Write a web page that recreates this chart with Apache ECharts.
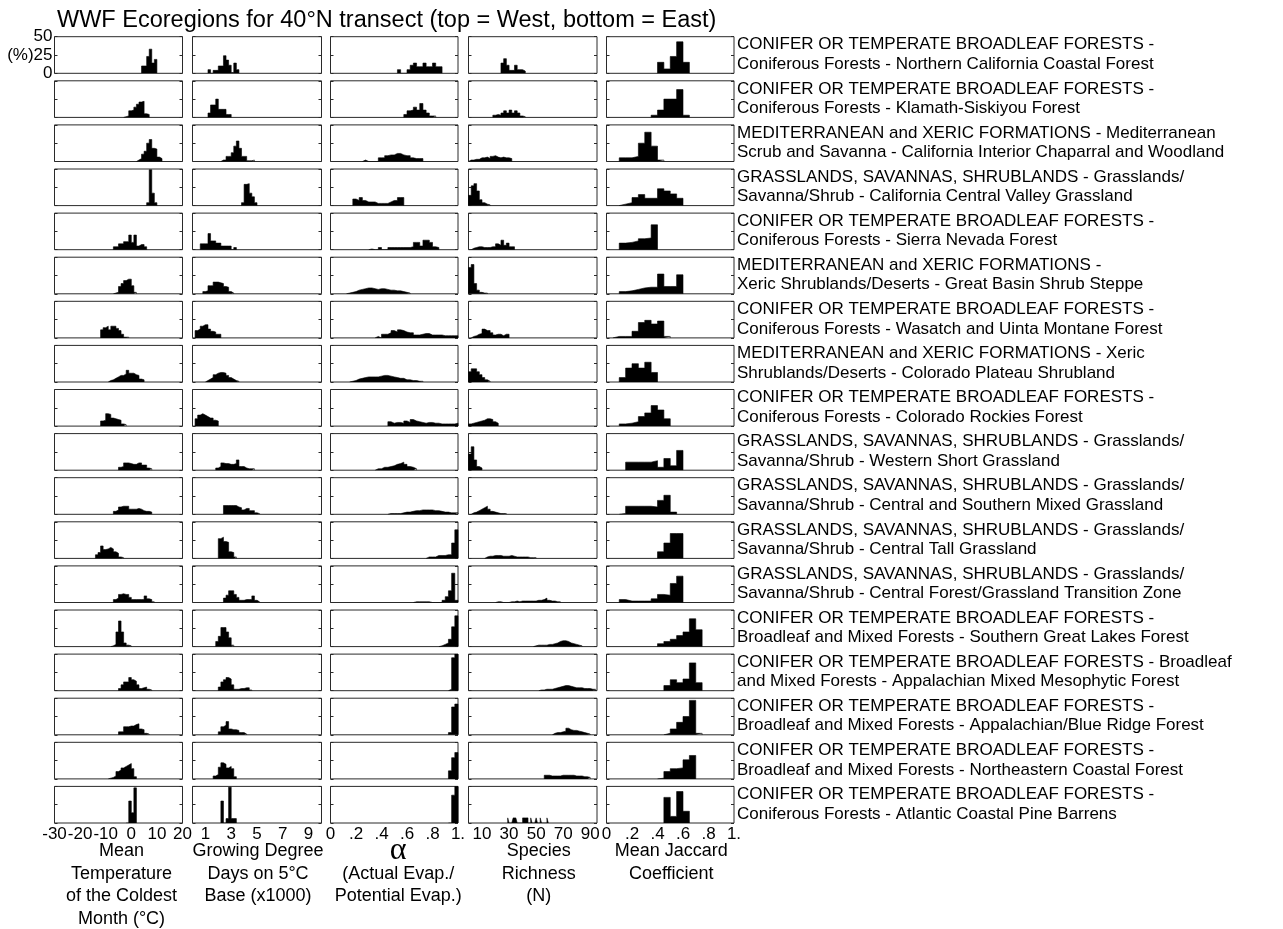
<!DOCTYPE html>
<html><head><meta charset="utf-8">
<script src="https://cdn.jsdelivr.net/npm/echarts/dist/echarts.min.js"></script>
<style>html,body{margin:0;padding:0;background:#fff}#c{width:1283px;height:929px}</style>
</head><body><div id="c"></div>
<script>
const chartTitle = 'WWF Ecoregions for 40°N transect (top = West, bottom = East)';
const regions = [
 'CONIFER OR TEMPERATE BROADLEAF FORESTS -\nConiferous Forests - Northern California Coastal Forest',
 'CONIFER OR TEMPERATE BROADLEAF FORESTS -\nConiferous Forests - Klamath-Siskiyou Forest',
 'MEDITERRANEAN and XERIC FORMATIONS - Mediterranean\nScrub and Savanna - California Interior Chaparral and Woodland',
 'GRASSLANDS, SAVANNAS, SHRUBLANDS - Grasslands/\nSavanna/Shrub - California Central Valley Grassland',
 'CONIFER OR TEMPERATE BROADLEAF FORESTS -\nConiferous Forests - Sierra Nevada Forest',
 'MEDITERRANEAN and XERIC FORMATIONS -\nXeric Shrublands/Deserts - Great Basin Shrub Steppe',
 'CONIFER OR TEMPERATE BROADLEAF FORESTS -\nConiferous Forests - Wasatch and Uinta Montane Forest',
 'MEDITERRANEAN and XERIC FORMATIONS - Xeric\nShrublands/Deserts - Colorado Plateau Shrubland',
 'CONIFER OR TEMPERATE BROADLEAF FORESTS -\nConiferous Forests - Colorado Rockies Forest',
 'GRASSLANDS, SAVANNAS, SHRUBLANDS - Grasslands/\nSavanna/Shrub - Western Short Grassland',
 'GRASSLANDS, SAVANNAS, SHRUBLANDS - Grasslands/\nSavanna/Shrub - Central and Southern Mixed Grassland',
 'GRASSLANDS, SAVANNAS, SHRUBLANDS - Grasslands/\nSavanna/Shrub - Central Tall Grassland',
 'GRASSLANDS, SAVANNAS, SHRUBLANDS - Grasslands/\nSavanna/Shrub - Central Forest/Grassland Transition Zone',
 'CONIFER OR TEMPERATE BROADLEAF FORESTS -\nBroadleaf and Mixed Forests - Southern Great Lakes Forest',
 'CONIFER OR TEMPERATE BROADLEAF FORESTS - Broadleaf\nand Mixed Forests - Appalachian Mixed Mesophytic Forest',
 'CONIFER OR TEMPERATE BROADLEAF FORESTS -\nBroadleaf and Mixed Forests - Appalachian/Blue Ridge Forest',
 'CONIFER OR TEMPERATE BROADLEAF FORESTS -\nBroadleaf and Mixed Forests - Northeastern Coastal Forest',
 'CONIFER OR TEMPERATE BROADLEAF FORESTS -\nConiferous Forests - Atlantic Coastal Pine Barrens'
];
const colTitles = [
 'Mean\nTemperature\nof the Coldest\nMonth (°C)',
 'Growing Degree\nDays on 5°C\nBase (x1000)',
 '\n(Actual Evap./\nPotential Evap.)',
 'Species\nRichness\n(N)',
 'Mean Jaccard\nCoefficient'
];
const alphaSymbol = 'α';
const yTickLabels = {0: '0', 25: '(%)25', 50: '50'};

// each entry: [first bin start, [bin heights in %], optional bin width]
const tempHist = [
 [4, [10,10,23,33,14,19]],
 [-3, [1,2,9,10,14,18,21,22,5,4]],
 [2, [2,4,10,14,25,30,18,17,6,4]],
 [6, [4,49,17,4]],
 [-7, [4,4,8,8,11,11,20,10,20,5,7,7,4]],
 [-7, [1,2,10,14,18,20,20,11,2]],
 [-12, [11,14,16,11,16,16,13,10,5,1,1]],
 [-9, [2,3,5,7,9,9,11,16,12,12,10,9,4,3]],
 [-12, [7,8,17,16,11,10,9,8,3,2]],
 [-5, [4,5,10,10,9,8,8,10,10,7,7,3,2]],
 [-7, [4,6,10,11,11,11,7,7,7,8,7,5,4,4,3]],
 [-14, [5,8,17,12,13,15,13,9,7,2,1]],
 [-7, [4,6,11,12,11,11,7,4,4,4,4,4,9,5,4,1]],
 [-8, [1,3,20,35,20,5,2,1]],
 [-5, [3,8,12,12,18,15,13,8,3,4,5,2,1]],
 [-5, [4,4,11,11,12,12,14,15,8,7,2,1]],
 [-9, [1,2,4,10,12,15,17,19,21,14,3]],
 [-2, [0,30,14,48]]
];
const gddHist = [
 [1.2, [5,0,4,4,10,10,24,18,11,1,14,5]],
 [1.2, [6,17,17,25,11,11,11,4,4]],
 [2.2, [2,2,7,7,12,21,28,18,7,7,1,1,2]],
 [3.8, [4,29,30,17,12,4]],
 [0.6, [8,8,8,22,12,12,9,9,5,5,5,5,0,3]],
 [0.8, [3,4,11,11,16,16,15,14,10,9,3,1]],
 [0.2, [10,12,16,18,18,12,9,8,5,5]],
 [1.0, [2,4,6,10,12,13,13,12,9,6,4,2,1]],
 [0.2, [10,15,17,15,13,11,11,8,7]],
 [1.8, [3,5,10,9,9,8,8,9,14,5,5,3,2,2,2]],
 [2.4, [12,12,12,12,12,10,9,6,8,8,5,5,2,1]],
 [2.0, [27,29,23,22,9,8,2]],
 [2.4, [6,10,16,16,11,7,3,3,4,4,4,9,3,1]],
 [1.8, [7,14,26,26,20,12,2]],
 [2.0, [5,12,15,18,16,8,2,2,3,3,4,4,1]],
 [2.0, [4,11,13,18,8,7,7,6,3,3,1]],
 [1.6, [4,6,16,22,20,15,17,14,3]],
 [2.2, [30,0,6,49,6,6]]
];
const alphaHist = [
 [0.525, [5,0,0,5,11,14,9,9,14,9,9,14,9,9]],
 [0.575, [4,9,10,14,10,19,10,6,2,2]],
 [0.25, [2,0,0,0,0,5,5,8,9,9,11,11,9,8,8,5,4,4,4]],
 [0.175, [9,7,11,7,5,5,5,3,3,3,3,5,7,7,11,11]],
 [0.3, [1,0,0,3,0,0,3,3,3,3,3,3,3,4,10,10,5,13,13,10,4,3]],
 [0.125, [1,2,3,5,6,7,8,8,7,6,7,7,6,5,5,4,4,3,2,1]],
 [0.35, [2,0,5,5,7,10,8,11,10,8,7,7,4,4,5,6,6,4,4,4,4,3,3,3,3,3]],
 [0.15, [1,2,4,5,6,7,7,7,7,8,9,9,8,7,6,5,5,3,3,2,2,1,1]],
 [0.45, [6,4,5,5,4,7,5,9,7,6,5,4,5,5,4,4,3,3,3,3,3,4]],
 [0.35, [2,2,4,4,5,6,8,9,11,8,5,4,2]],
 [0.45, [1,1,1,1,2,3,3,4,5,5,6,6,6,6,5,5,4,3,3,2,2,2]],
 [0.75, [2,2,2,4,4,4,5,5,21,39]],
 [0.65, [1,1,1,1,1,0,0,0,0,3,8,16,40,3]],
 [0.85, [1,3,5,10,27,42]],
 [0.925, [2,45,50]],
 [0.925, [3,38,42]],
 [0.925, [11,29,36]],
 [0.925, [0,38,50]]
];
const richHist = [
 [24, [14,20,11,4,4,11,5,5,3]],
 [18, [3,4,3,6,9,6,10,6,9,6,2,1]],
 [0, [2,2,3,3,5,5,6,4,7,8,6,5,6,5,5,4]],
 [0, [14,27,30,20,8,4,2,1]],
 [2, [2,3,4,4,3,3,3,4,4,8,6,13,6,9,4,4]],
 [0, [36,40,14,5,2,1,1]],
 [2, [2,3,5,6,12,10,10,7,4,5,5,3,5,5]],
 [0, [14,18,18,14,10,6,3,1]],
 [0, [3,4,5,6,7,8,10,10,9,6,4]],
 [0, [22,32,14,5,3]],
 [2, [2,3,5,7,9,11,7,4,3,2,1,1,1]],
 [12, [2,3,3,4,4,4,3,3,3,4,3,2,2,2,2,2,1,1,1]],
 [20, [1,1,0,0,0,1,1,2,1,2,2,2,2,2,2,3,3,4,6,3,2,2,1,1]],
 [48, [1,2,2,2,2,3,3,4,5,7,8,8,7,5,4,3,2,1]],
 [52, [1,1,2,2,2,3,4,5,6,7,7,6,5,4,4,4,3,3,3,2,2]],
 [62, [2,3,3,4,5,9,7,6,6,5,4,3,2,1]],
 [56, [5,5,4,4,4,4,5,5,5,5,5,4,4,4,3,3,2]],
 [29, [7,0,0,0,7,7,7,0,0,0,0,7,7,7,7,0,0,7,0,0,0,7,0,0,7,0,0,0,0,7], 1]
];
const jaccHist = [
 [0.40, [15,6,23,43,15]],
 [0.35, [3,10,25,25,38,3]],
 [0.10, [5,5,7,25,40,21,2]],
 [0.10, [2,4,11,15,10,10,23,20,16,10]],
 [0.10, [9,10,12,15,16,34]],
 [0.10, [3,4,6,8,9,9,27,10,10,26]],
 [0.05, [2,2,2,9,21,24,19,23,2]],
 [0.10, [6,19,25,19,27,13]],
 [0.10, [3,4,6,13,18,28,22,10]],
 [0.15, [11,11,11,11,13,4,16,6,27]],
 [0.10, [1,11,11,11,11,10,19,26,3]],
 [0.40, [9,21,34,34]],
 [0.10, [4,2,2,2,2,5,11,10,26,36]],
 [0.40, [4,7,10,15,20,38,23]],
 [0.45, [7,15,11,16,38,11]],
 [0.45, [2,8,17,25,47,2]],
 [0.40, [1,10,14,15,26,32]],
 [0.45, [35,9,43,16]]
];

const fmtFrac = v => v === 0 ? '0' : (Math.abs(v - 1) < 1e-9 ? '1.' : '.' + Math.round(v * 10));
const columns = [
 {data: tempHist, bin: 1, min: -30, max: 20, interval: 10, fmt: v => String(v)},
 {data: gddHist, bin: 0.2, min: 0, max: 10, interval: 1, fmt: v => (v % 2 === 1 ? String(v) : '')},
 {data: alphaHist, bin: 0.025, min: 0, max: 1, interval: 0.2, fmt: fmtFrac},
 {data: richHist, bin: 2, min: 0, max: 95, interval: 10, fmt: v => ((v / 10) % 2 === 1 ? String(v) : '')},
 {data: jaccHist, bin: 0.05, min: 0, max: 1, interval: 0.2, fmt: fmtFrac}
];

const colLeft = [54.5, 192.5, 330.5, 468.5, 606.5];
const colWidth = [128, 129, 127.5, 128.5, 127.5];
const titleCenterShift = [3, 1, 4, 6, 1];
const rowTop0 = 36.7, rowStep = 44.1, rowH = 36.6;
const FONT = 'Liberation Sans';

function histPoints(entry, bin) {
  const start = entry[0], h = entry[1], w = entry[2] || bin;
  const pts = [[start, 0]];
  h.forEach((v, i) => pts.push([+(start + i * w).toFixed(4), v]));
  pts.push([+(start + h.length * w).toFixed(4), 0]);
  return pts;
}

const grid = [], xAxis = [], yAxis = [], series = [], graphic = [];
for (let r = 0; r < 18; r++) {
  const top = rowTop0 + rowStep * r;
  for (let c = 0; c < 5; c++) {
    const g = r * 5 + c, col = columns[c], last = r === 17;
    grid.push({left: colLeft[c], top: top, width: colWidth[c], height: rowH,
      show: true, borderColor: '#2a2a2a', borderWidth: 1, backgroundColor: '#fff', containLabel: false});
    xAxis.push({gridIndex: g, type: 'value', min: col.min, max: col.max, interval: col.interval,
      axisLine: {show: false, onZero: false}, axisTick: {show: false}, splitLine: {show: false},
      axisLabel: {show: last, formatter: col.fmt, color: '#000', fontSize: 17, fontFamily: FONT, margin: 3,
        showMaxLabel: c !== 3}
    });
    const yBase = {gridIndex: g, type: 'value', min: 0, max: 50, interval: 25,
      axisLine: {show: false, onZero: false}, splitLine: {show: false},
      axisTick: {show: true, inside: true, length: 3, lineStyle: {color: '#2a2a2a', width: 1}}};
    yAxis.push(Object.assign({}, yBase, {position: 'left',
      axisLabel: {show: r === 0 && c === 0, formatter: v => yTickLabels[v], color: '#000', fontSize: 17, fontFamily: FONT, margin: 2}}));
    yAxis.push(Object.assign({}, yBase, {position: 'right', axisLabel: {show: false}}));
    series.push({type: 'line', xAxisIndex: g, yAxisIndex: 2 * g, step: 'end',
      data: histPoints(col.data[r], col.bin), showSymbol: false, symbol: 'none', silent: true,
      lineStyle: {color: '#000', width: 0.6}, areaStyle: {color: '#000', opacity: 1}, clip: true, z: 3});
  }
  graphic.push({type: 'text', x: 737, y: top + rowH / 2 - 0.5,
    style: {text: regions[r], fill: '#000', fontSize: 17, fontFamily: FONT, verticalAlign: 'middle', lineHeight: 19.5}});
}
// column titles under the bottom row
const bottomY = rowTop0 + rowStep * 17 + rowH;
for (let c = 0; c < 5; c++) {
  graphic.push({type: 'text', x: colLeft[c] + colWidth[c] / 2 + titleCenterShift[c], y: bottomY + 17,
    style: {text: colTitles[c], fill: '#000', fontSize: 18, fontFamily: FONT, align: 'center', verticalAlign: 'top', lineHeight: 22.5}});
}
graphic.push({type: 'text', x: colLeft[2] + colWidth[2] / 2 + 4, y: bottomY + 28,
  style: {text: alphaSymbol, fill: '#000', fontSize: 32, fontFamily: 'Liberation Serif', align: 'center', verticalAlign: 'middle'}});

const chart = echarts.init(document.getElementById('c'), null, {renderer: 'canvas'});
chart.setOption({
  animation: false,
  backgroundColor: '#fff',
  title: {text: chartTitle, left: 52, top: 4, textStyle: {color: '#000', fontSize: 23.5, fontWeight: 'normal', fontFamily: FONT}},
  grid, xAxis, yAxis, series, graphic
});
</script></body></html>
